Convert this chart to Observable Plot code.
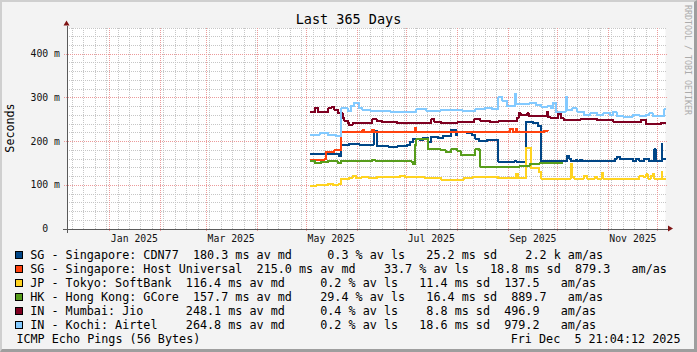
<!DOCTYPE html>
<html><head><meta charset="utf-8">
<script src="https://cdn.jsdelivr.net/npm/d3@7"></script>
<script src="https://cdn.jsdelivr.net/npm/@observablehq/plot@0.6"></script>
<style>
html,body{margin:0;padding:0;background:#fff;}
#wrap{position:relative;width:697px;height:352px;background:#f3f3f3;overflow:hidden;font-family:"DejaVu Sans Mono",monospace;color:#000;}
#wrap svg{position:absolute;left:0;top:0;}
.t{position:absolute;white-space:pre;}
.sw{position:absolute;width:8px;height:8px;box-sizing:border-box;border:1px solid #000;}
#shade{position:absolute;left:0;top:0;width:697px;height:352px;box-sizing:border-box;border-top:2px solid #cfcfcf;border-left:2px solid #cfcfcf;border-right:3px solid #9e9e9e;border-bottom:3px solid #9e9e9e;pointer-events:none;}
</style></head><body><div id="wrap"></div>
<script>
const START = "2024-12-05T21:04";
const END = "2025-12-05T21:04";
const yMax = 460;
const yTicks = [0, 100, 200, 300, 400];
const xLabelAt = ["2025-01-16","2025-03-16","2025-05-16","2025-07-16","2025-09-16","2025-11-16"];
const xLabelText = ["Jan 2025","Mar 2025","May 2025","Jul 2025","Sep 2025","Nov 2025"];

const seriesNames = ["CDN77","Host Universal","SoftBank","GCore","Jio","Airtel"];
const seriesColors = ["#004586","#ff420e","#ffd320","#579d1c","#7e0021","#83caff"];

const cdn77 = [["2025-05-03T12",171],["2025-05-20",172],["2025-05-21",166],["2025-05-22",193],["2025-05-27",195],["2025-06-02",193],["2025-06-11",225],["2025-06-13",189],["2025-06-20",188],["2025-06-25",189],["2025-07-01",192],["2025-07-03",199],["2025-07-05",206],["2025-07-09",203],["2025-07-11",208],["2025-07-14",199],["2025-07-16",211],["2025-07-20",208],["2025-07-23",212],["2025-07-28",227],["2025-07-31",215],["2025-08-01",222],["2025-08-07",220],["2025-08-10",215],["2025-08-12",207],["2025-08-14",201],["2025-08-19",203],["2025-08-26",154],["2025-09-05",156],["2025-09-06",154],["2025-09-12",245],["2025-09-16",242],["2025-09-19",236],["2025-09-21",155],["2025-10-07",168],["2025-10-08",161],["2025-10-09",155],["2025-10-12",159],["2025-10-13",155],["2025-10-15",159],["2025-10-16",155],["2025-11-05",161],["2025-11-06",165],["2025-11-08",161],["2025-11-16",155],["2025-11-18",160],["2025-11-20",155],["2025-11-23",161],["2025-11-26",155],["2025-11-29",182],["2025-11-30",155],["2025-12-03T12",195],["2025-12-04",161],[END,161]];

const hostUniversal = [["2025-05-03T12",158],["2025-05-12",160],["2025-05-13",176],["2025-05-18",180],["2025-05-22",221],["2025-06-04",226],["2025-06-05",222],["2025-06-10",226],["2025-06-11",222],["2025-06-20",221],["2025-07-06",231],["2025-07-07",222],["2025-07-20",223],["2025-08-05",221],["2025-08-20",222],["2025-09-02",230],["2025-09-04",222],["2025-09-05T12",230],["2025-09-06T12",222],["2025-09-23",225],["2025-09-25",225]];

const softBank = [["2025-05-03T12",99],["2025-05-07",101],["2025-05-12",100],["2025-05-14",103],["2025-05-17",101],["2025-05-20",102],["2025-05-22",114],["2025-05-27",117],["2025-05-29",121],["2025-05-31",116],["2025-06-03",118],["2025-06-08",116],["2025-06-13",120],["2025-06-20",118],["2025-06-27",122],["2025-06-30",119],["2025-07-05",118],["2025-07-12",117],["2025-07-22",113],["2025-08-05",116],["2025-08-10",118],["2025-08-20",120],["2025-08-26",116],["2025-09-06",127],["2025-09-07",116],["2025-09-12",186],["2025-09-15",140],["2025-09-19T12",131],["2025-09-21",115.5],["2025-10-09",148],["2025-10-10",120],["2025-10-11",115.5],["2025-10-17",122],["2025-10-19",115.5],["2025-10-24",120],["2025-10-25",115.5],["2025-10-28",128],["2025-10-29",115.5],["2025-11-20",122],["2025-11-22",120],["2025-11-24",125],["2025-11-25",115.5],["2025-11-27",122],["2025-11-28",125],["2025-11-29",115.5],["2025-12-03T12",130],["2025-12-04",115.5],[END,115.5]];

const gcore = [["2025-05-03T12",155],["2025-05-06",151],["2025-05-10",154],["2025-05-14",155],["2025-05-20",151],["2025-05-22",155],["2025-06-10",159],["2025-06-12",155],["2025-07-04",153],["2025-07-05",149],["2025-07-06",192],["2025-07-07",206],["2025-07-14",182],["2025-07-22",180],["2025-07-25",176],["2025-07-28",182],["2025-08-01",178],["2025-08-03",170],["2025-08-12",184],["2025-08-14",180],["2025-08-15",142],["2025-08-20",141],["2025-09-01",143],["2025-09-08",145],["2025-09-14",148],["2025-09-20",151],["2025-10-04",151]];

const jio = [["2025-05-03T12",267],["2025-05-06",278],["2025-05-08",267],["2025-05-14",276],["2025-05-16",278.5],["2025-05-18",272],["2025-05-20",265],["2025-05-23",253],["2025-05-24",248],["2025-05-26",242],["2025-05-27",238],["2025-05-29",241.6],["2025-06-10",250.8],["2025-06-13",247.7],["2025-06-16",244],["2025-06-21",245.5],["2025-06-25",243],["2025-06-29",241.6],["2025-07-03",243],["2025-07-16",250.8],["2025-07-18",245.5],["2025-07-22",243],["2025-08-01",244],["2025-08-11",250.8],["2025-08-15",247],["2025-08-21",245],["2025-08-26",247.7],["2025-09-06T12",255],["2025-09-07T12",266],["2025-09-08T12",260.8],["2025-09-12T12",264.7],["2025-09-13T12",258.5],["2025-09-24T12",268.5],["2025-09-25T12",255.4],["2025-09-27",253],["2025-10-01T12",263],["2025-10-03",253],["2025-10-05",250],["2025-10-15",251.5],["2025-10-25",249.5],["2025-11-04",246],["2025-11-14",244],["2025-11-21",250],["2025-11-24",241],["2025-11-28",239.5],["2025-12-03",242],[END,242]];

const airtel = [["2025-05-03T12",216],["2025-05-09",219],["2025-05-14",215],["2025-05-19",213],["2025-05-22",276],["2025-05-26",270],["2025-05-28",281],["2025-05-30",288],["2025-06-02",276],["2025-06-04",273],["2025-06-09",271],["2025-06-21",268.5],["2025-07-07",275],["2025-07-13",271],["2025-07-22",272],["2025-08-04",270],["2025-08-12",274],["2025-08-18",278],["2025-08-22",275],["2025-08-26",302],["2025-08-28",294],["2025-08-31",281],["2025-09-05",309],["2025-09-06",286],["2025-09-14",288],["2025-09-18",284],["2025-09-21",280],["2025-09-25",282],["2025-09-27",276],["2025-09-28",288],["2025-09-30",268.5],["2025-10-06",303],["2025-10-07",272],["2025-10-10",276],["2025-10-13",268.5],["2025-10-17",261],["2025-10-21",265],["2025-10-25",261],["2025-10-29",265],["2025-11-02",261],["2025-11-04",268.5],["2025-11-06",258.5],["2025-11-10",257],["2025-11-16",261],["2025-11-20",258.5],["2025-11-24",261],["2025-11-26",265],["2025-11-28",258.5],["2025-12-05T06",274],[END,274]];

const seriesData = [cdn77, hostUniversal, softBank, gcore, jio, airtel];

const legendRows = [
"SG - Singapore: CDN77  180.3 ms av md     0.3 % av ls   25.2 ms sd    2.2 k am/as",
"SG - Singapore: Host Universal  215.0 ms av md    33.7 % av ls   18.8 ms sd  879.3   am/as",
"JP - Tokyo: SoftBank  116.4 ms av md     0.2 % av ls   11.4 ms sd  137.5   am/as",
"HK - Hong Kong: GCore  157.7 ms av md    29.4 % av ls   16.4 ms sd  889.7   am/as",
"IN - Mumbai: Jio      248.1 ms av md     0.4 % av ls    8.8 ms sd  496.9   am/as",
"IN - Kochi: Airtel    264.8 ms av md     0.2 % av ls   18.6 ms sd  979.2   am/as"];
const titleText = "Last 365 Days";
const yLabelText = "Seconds";
const footLeft = "ICMP Echo Pings (56 Bytes)";
const footRight = "Fri Dec  5 21:04:12 2025";
const watermark = "RRDTOOL / TOBI OETIKER";

const parse = s => new Date(s.length === 10 ? s + "T00:00Z" : (s.length === 13 ? s + ":00Z" : s + "Z"));
const startDate = parse(START), endDate = parse(END);
const rows = seriesData.flatMap((arr, i) => arr.map(([d, v]) => ({date: parse(d), ms: v, series: seriesNames[i]})));
const labelMap = new Map(xLabelAt.map((d, i) => [+parse(d), xLabelText[i]]));

const minorY = d3.range(20, yMax + 1, 20).filter(v => v % 100 !== 0);
const majorY = yTicks.filter(v => v > 0);
const weeks = d3.utcMonday.range(startDate, endDate);
const months = d3.utcMonth.range(startDate, endDate);
const GRAY = "#c6c6c6", RED = "#ec9a9a", AXIS = "#5a5a5a", ARROW = "#7f1414";

function arrows(index, {x, y}) {
  const g = d3.create("svg:g").attr("fill", ARROW);
  const x0 = x(startDate), x1 = x(endDate), y0 = y(0), yt = y(yMax);
  g.append("path").attr("d", `M${x1+3},${y0-3}L${x1+8},${y0}L${x1+3},${y0+3}Z`);
  g.append("path").attr("d", `M${x0-3},${yt-2}L${x0},${yt-7}L${x0+3},${yt-2}Z`);
  return g.node();
}

const chart = Plot.plot({
  width: 697, height: 352,
  marginLeft: 66.5, marginRight: 32, marginTop: 27.5, marginBottom: 123.5,
  style: {background: "transparent", fontFamily: "DejaVu Sans Mono", color: "#111"},
  x: {type: "utc", domain: [startDate, endDate]},
  y: {domain: [0, yMax]},
  color: {domain: seriesNames, range: seriesColors},
  marks: [
    Plot.frame({fill: "#fff", stroke: "none"}),
    Plot.ruleY(minorY, {stroke: GRAY, strokeDasharray: "1,1", shapeRendering: "crispEdges", insetRight: -2}),
    Plot.ruleX(weeks, {stroke: GRAY, strokeDasharray: "1,1", shapeRendering: "crispEdges"}),
    Plot.ruleX(months, {stroke: RED, strokeDasharray: "1,1", shapeRendering: "crispEdges", insetBottom: -3}),
    Plot.ruleY(majorY, {stroke: RED, strokeDasharray: "1,1", shapeRendering: "crispEdges", insetLeft: -3, insetRight: -2}),
    Plot.line(rows, {x: "date", y: "ms", z: "series", stroke: "series", curve: "step-after", strokeWidth: 2, shapeRendering: "crispEdges"}),
    Plot.ruleY([0], {stroke: AXIS, insetLeft: -4, insetRight: -3, shapeRendering: "crispEdges"}),
    Plot.ruleX([startDate], {stroke: AXIS, insetTop: -2, insetBottom: -4, shapeRendering: "crispEdges"}),
    arrows,
    Plot.axisX(xLabelAt.map(parse), {tickSize: 0, tickPadding: 6, fontSize: 9.8, label: null, tickFormat: d => labelMap.get(+d)}),
    Plot.axisY(yTicks, {tickSize: 0, tickPadding: 7, fontSize: 9.8, label: null, tickFormat: d => d === 0 ? "0\u00a0\u00a0" : d + " m"})
  ]
});

const wrap = document.getElementById("wrap");
wrap.appendChild(chart);

function addText(txt, css) {
  const d = document.createElement("div");
  d.className = "t";
  d.textContent = txt;
  Object.assign(d.style, css);
  wrap.appendChild(d);
  return d;
}
addText(titleText, {left: "0px", width: "697px", textAlign: "center", top: "11.2px", fontSize: "13.5px", lineHeight: "16px"});
addText(yLabelText, {left: "10.5px", top: "128px", fontSize: "11.7px", lineHeight: "11.7px", transform: "translate(-50%,-50%) rotate(-90deg)"});
addText(watermark, {left: "684px", top: "5px", fontSize: "8.3px", lineHeight: "8.3px", writingMode: "vertical-rl", color: "#ababab"});

legendRows.forEach((r, i) => {
  const cy = 254.3 + 14 * i;
  addText(r, {left: "30.2px", top: (cy - 6.8) + "px", fontSize: "11.75px", lineHeight: "14px"});
  const sw = document.createElement("div");
  sw.className = "sw";
  sw.style.left = "15px";
  sw.style.top = (cy - 3.5) + "px";
  sw.style.background = seriesColors[i];
  wrap.appendChild(sw);
});
addText(footLeft, {left: "16.4px", top: (338.3 - 6.8) + "px", fontSize: "11.75px", lineHeight: "14px"});
addText(footRight, {right: "16.5px", top: (338.3 - 6.8) + "px", fontSize: "11.75px", lineHeight: "14px"});
const shade = document.createElement("div");
shade.id = "shade";
wrap.appendChild(shade);
</script></body></html>
